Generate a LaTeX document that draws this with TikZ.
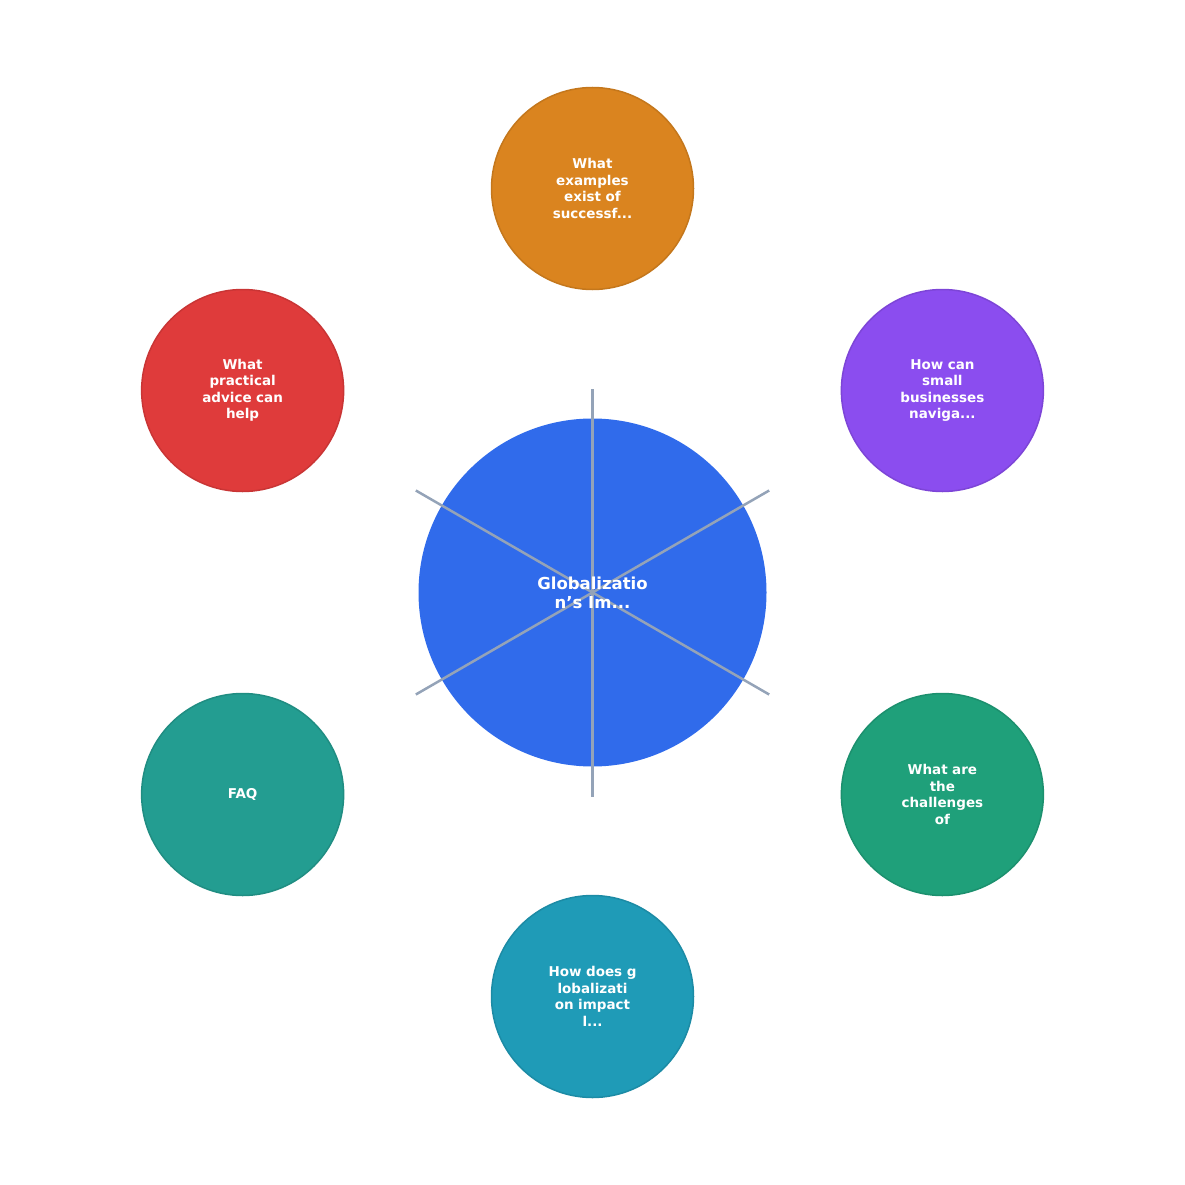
\documentclass[tikz,border=0pt]{standalone}
\usepackage{fontspec}
\setmainfont{DejaVu Sans}
\usetikzlibrary{calc}
\definecolor{hubblue}{HTML}{306BEB}
\definecolor{spokegray}{HTML}{94A3B8}
\definecolor{qorange}{HTML}{DA841F}
\definecolor{qpurple}{HTML}{8B4DEF}
\definecolor{qgreen}{HTML}{1FA07A}
\definecolor{qcyan}{HTML}{1F9BB7}
\definecolor{qteal}{HTML}{239D91}
\definecolor{qred}{HTML}{DF3B3B}
\begin{document}
\begin{tikzpicture}[x=1pt,y=1pt]
\tikzstyle{topic}=[circle, minimum size=202pt, inner sep=0pt, line width=1.5pt,
  text=white, font=\bfseries\fontsize{13.5}{16.5}\selectfont, align=center, text width=92pt]
\tikzstyle{spoke}=[spokegray, line width=2.5pt]
\useasboundingbox (0,0) rectangle (1185,-1185);
\node (hub) [circle, minimum size=348pt, inner sep=0pt, fill=hubblue] at (592.5,-592.5) {};
\foreach \a in {90,30,-30,-90,-150,150}
  \draw [spoke] (hub.center) -- ++(\a:204);
\node [text=white, font=\bfseries\fontsize{16.5}{19}\selectfont, align=center] at (hub.center) {Globalizatio\\n's Im...};
\node (q1) [topic, fill=qorange, draw=qorange!90!black] at ($(hub.center)+(90:404)$) {What\\examples\\exist of\\successf...};
\node (q2) [topic, fill=qpurple, draw=qpurple!90!black] at ($(hub.center)+(30:404)$) {How can\\small\\businesses\\naviga...};
\node (q3) [topic, fill=qgreen, draw=qgreen!90!black] at ($(hub.center)+(-30:404)$) {What are\\the\\challenges\\of};
\node (q4) [topic, fill=qcyan, draw=qcyan!90!black] at ($(hub.center)+(-90:404)$) {How does g\\lobalizati\\on impact\\l...};
\node (q5) [topic, fill=qteal, draw=qteal!90!black] at ($(hub.center)+(-150:404)$) {FAQ};
\node (q6) [topic, fill=qred, draw=qred!90!black] at ($(hub.center)+(150:404)$) {What\\practical\\advice can\\help};
\end{tikzpicture}
\end{document}
